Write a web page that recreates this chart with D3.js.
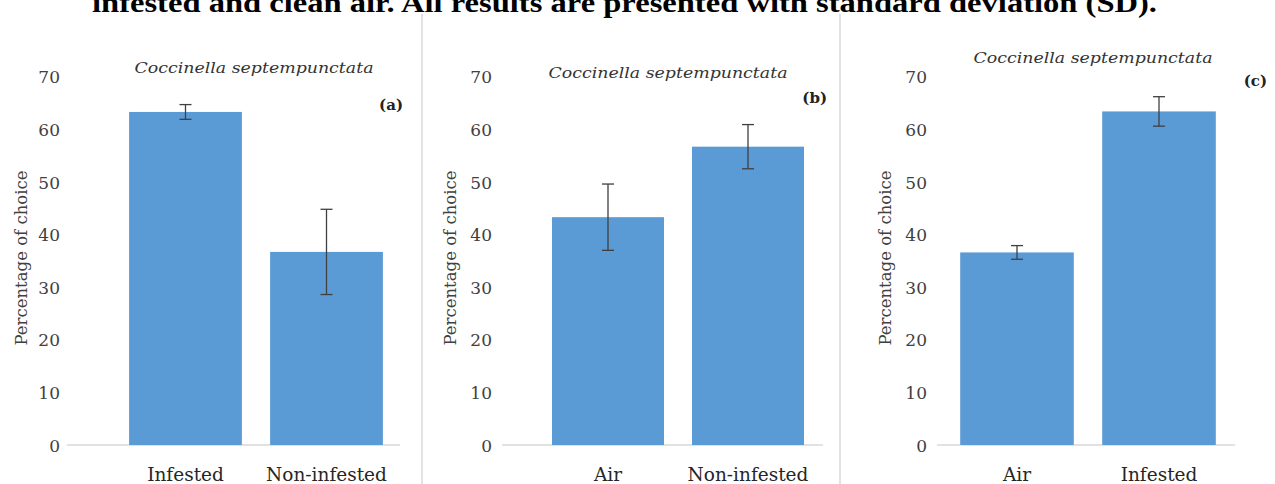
<!DOCTYPE html>
<html>
<head>
<meta charset="utf-8">
<script src="https://cdn.jsdelivr.net/npm/d3@7"></script>
<style>
  html, body { margin: 0; padding: 0; background: #ffffff; }
  svg { display: block; }
</style>
</head>
<body>
<svg id="chart" width="1275" height="484"></svg>
<script>
// ---------------- data ----------------
const panelLetters = ["(a)", "(b)", "(c)"];
const speciesTitle = "Coccinella septempunctata";
const yAxisTitle = "Percentage of choice";
const captionText = "infested and clean air. All results are presented with standard deviation (SD).";

const categoriesA = ["Infested", "Non-infested"];
const valuesA = [63.3, 36.7];
const sdA = [1.4, 8.1];

const categoriesB = ["Air", "Non-infested"];
const valuesB = [43.3, 56.7];
const sdB = [6.3, 4.2];

const categoriesC = ["Air", "Infested"];
const valuesC = [36.6, 63.4];
const sdC = [1.3, 2.8];

const yTicks = [0, 10, 20, 30, 40, 50, 60, 70];
const yDomain = [0, 70];

// ---------------- layout ----------------
const layouts = [
  { cats: categoriesA, vals: valuesA, sd: sdA, letter: panelLetters[0],
    band: [115, 397], axis: [67, 400], tickX: 60, yTitleX: 21,
    titleX: 254, titleY: 73, letterX: 403, letterY: 110 },
  { cats: categoriesB, vals: valuesB, sd: sdB, letter: panelLetters[1],
    band: [538, 818], axis: [502, 823], tickX: 492, yTitleX: 450,
    titleX: 668, titleY: 78, letterX: 827, letterY: 103 },
  { cats: categoriesC, vals: valuesC, sd: sdC, letter: panelLetters[2],
    band: [946, 1230], axis: [937, 1235], tickX: 927, yTitleX: 885,
    titleX: 1093, titleY: 63, letterX: 1267, letterY: 86 }
];
const separators = [422, 840];
const yTop = 76.7, yBottom = 445;

const svg = d3.select("#chart");
const serif = "'DejaVu Serif', serif";

// caption (cut off at top, as in the source figure)
svg.append("text")
  .attr("x", 92).attr("y", 12)
  .attr("font-family", "'Liberation Serif', 'Times New Roman', serif")
  .attr("font-weight", "bold")
  .attr("font-size", 28)
  .attr("textLength", 1065)
  .attr("lengthAdjust", "spacingAndGlyphs")
  .attr("fill", "#000")
  .text(captionText);

// separators
separators.forEach(x => {
  svg.append("line")
    .attr("x1", x).attr("x2", x).attr("y1", 14).attr("y2", 484)
    .attr("stroke", "#d9d9d9").attr("stroke-width", 1.5);
});

const y = d3.scaleLinear().domain(yDomain).range([yBottom, yTop]);

layouts.forEach(p => {
  const g = svg.append("g");
  const x = d3.scaleBand().domain(p.cats).range(p.band).paddingInner(0.2).paddingOuter(0.1);

  // y axis tick labels (no line, no ticks)
  const yAxis = d3.axisLeft(y).tickValues(yTicks).tickSize(0).tickPadding(0);
  const ya = g.append("g").attr("transform", `translate(${p.tickX},0)`).call(yAxis);
  ya.select(".domain").remove();
  ya.selectAll("text")
    .attr("font-family", serif).attr("font-size", 17).attr("fill", "#404040")
    .attr("dy", "0.36em");

  // baseline
  g.append("line")
    .attr("x1", p.axis[0]).attr("x2", p.axis[1])
    .attr("y1", y(0)).attr("y2", y(0))
    .attr("stroke", "#d9d9d9").attr("stroke-width", 1.3);

  // bars
  g.selectAll("rect.bar").data(p.cats).join("rect")
    .attr("class", "bar")
    .attr("x", d => x(d))
    .attr("width", x.bandwidth())
    .attr("y", (d, i) => y(p.vals[i]))
    .attr("height", (d, i) => y(0) - y(p.vals[i]))
    .attr("fill", "#5b9bd5");

  // error bars
  const cap = 6;
  p.cats.forEach((c, i) => {
    const cx = x(c) + x.bandwidth() / 2;
    const hi = y(p.vals[i] + p.sd[i]), lo = y(p.vals[i] - p.sd[i]);
    const eg = g.append("g").attr("stroke", "#404040").attr("stroke-width", 1.3);
    eg.append("line").attr("x1", cx).attr("x2", cx).attr("y1", hi).attr("y2", lo);
    eg.append("line").attr("x1", cx - cap).attr("x2", cx + cap).attr("y1", hi).attr("y2", hi);
    eg.append("line").attr("x1", cx - cap).attr("x2", cx + cap).attr("y1", lo).attr("y2", lo);
  });

  // x axis labels
  const xAxis = d3.axisBottom(x).tickSize(0).tickPadding(0);
  const xa = g.append("g").attr("transform", `translate(0,${yBottom})`).call(xAxis);
  xa.select(".domain").remove();
  xa.selectAll("text")
    .attr("font-family", serif).attr("font-size", 18.5).attr("fill", "#262626")
    .attr("y", 36).attr("dy", 0);

  // y axis title
  g.append("text")
    .attr("transform", `translate(${p.yTitleX + 6},258) rotate(-90)`)
    .attr("text-anchor", "middle")
    .attr("font-family", serif).attr("font-size", 16.5).attr("fill", "#404040")
    .text(yAxisTitle);

  // species title
  g.append("text")
    .attr("x", p.titleX).attr("y", p.titleY)
    .attr("text-anchor", "middle")
    .attr("font-family", serif).attr("font-style", "italic")
    .attr("font-size", 15).attr("fill", "#333")
    .attr("textLength", 239).attr("lengthAdjust", "spacingAndGlyphs")
    .text(speciesTitle);

  // panel letter
  g.append("text")
    .attr("x", p.letterX).attr("y", p.letterY)
    .attr("text-anchor", "end")
    .attr("font-family", serif).attr("font-weight", "bold")
    .attr("font-size", 15).attr("fill", "#222")
    .text(p.letter);
});
</script>
</body>
</html>
